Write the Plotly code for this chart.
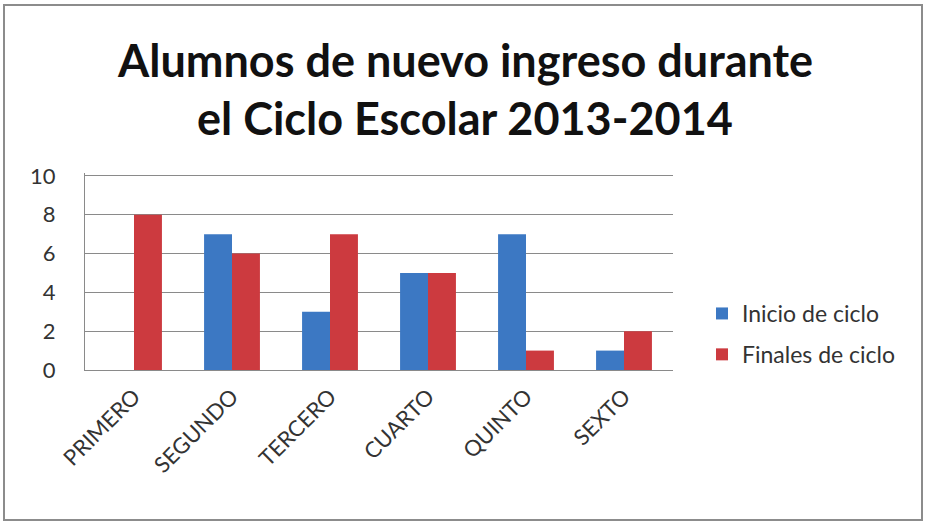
import plotly.graph_objects as go

# chart data
grados = ['PRIMERO', 'SEGUNDO', 'TERCERO', 'CUARTO', 'QUINTO', 'SEXTO']
inicio_ciclo = [0, 7, 3, 5, 7, 1]
finales_ciclo = [8, 6, 7, 5, 1, 2]
titulo_1 = 'Alumnos de nuevo ingreso durante'
titulo_2 = 'el Ciclo Escolar 2013-2014'

# plot area in pixels (927x525 page); y range runs a bit past 10 so the top gridline shows
W, H = 927, 525
Y_MAX = 10.15
L, R, B = 85, 254, 155
ph = round(194 * Y_MAX / 10)
T = H - B - ph
pw = W - L - R


def px_x(x):
    return (x - L) / pw


def px_y(y):
    return (T + ph - y) / ph


fig = go.Figure()

fig.add_trace(go.Bar(x=grados, y=inicio_ciclo, name='Inicio de ciclo', legendgroup='a',
                     marker=dict(color='#3c78c3', line=dict(width=0))))
fig.add_trace(go.Bar(x=grados, y=finales_ciclo, name='Finales de ciclo', legendgroup='b',
                     marker=dict(color='#cc3a3f', line=dict(width=0))))

# outer frame around the whole chart
fig.add_shape(type='rect', xref='paper', yref='paper',
              x0=px_x(4), x1=px_x(922), y0=px_y(520), y1=px_y(5),
              line=dict(color='#8c8c8c', width=2), layer='below')

# two-line title
for txt, yy in [(titulo_1, 60), (titulo_2, 118)]:
    fig.add_annotation(text='<b>' + txt + '</b>', xref='paper', yref='paper',
                       x=px_x(465), y=px_y(yy), xanchor='center', yanchor='middle',
                       showarrow=False, font=dict(size=45, color='#111111'))

fig.update_layout(
    width=W, height=H,
    margin=dict(l=L, r=R, t=T, b=B),
    paper_bgcolor='white', plot_bgcolor='white',
    barmode='group', bargap=0.43, bargroupgap=0,
    font=dict(family='Lato, Open Sans, sans-serif', color='#333333'),
    legend=dict(x=px_x(702), y=px_y(292), xanchor='left', yanchor='top',
                font=dict(size=23, color='#333333'), bgcolor='rgba(0,0,0,0)',
                tracegroupgap=8, itemwidth=30),
    showlegend=True,
)

fig.update_yaxes(range=[0, Y_MAX], tickvals=[0, 2, 4, 6, 8, 10], showgrid=True,
                 gridcolor='#8a8a8a', gridwidth=1,
                 showline=True, linecolor='#8a8a8a', linewidth=1, zeroline=False,
                 tickfont=dict(size=22, color='#333333'), ticklabelstandoff=24)
fig.update_xaxes(showline=True, linecolor='#8a8a8a', linewidth=1, tickangle=-45,
                 tickfont=dict(size=22, color='#333333'), ticklabelstandoff=4)

# page body has an 8px default margin; drop it so pixel positions line up
fig.write_html("out.html", config={'displayModeBar': False},
               post_script="document.body.style.margin='0px';")
